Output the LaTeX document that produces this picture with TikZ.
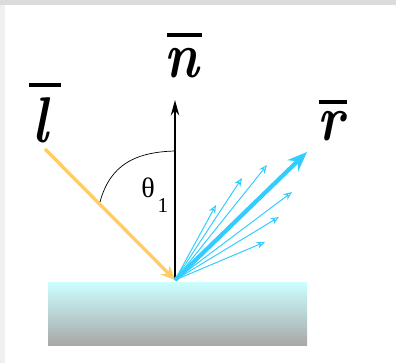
\documentclass[tikz,border=0pt]{standalone}
\usepackage{fontspec}
\newfontfamily\greekfont{Liberation Serif}
\usetikzlibrary{arrows.meta}
\definecolor{raylight}{RGB}{255,204,102}
\definecolor{rayblue}{RGB}{51,204,255}
\definecolor{slabtop}{RGB}{204,255,255}
\definecolor{slabbot}{RGB}{168,168,168}
\tikzset{
  veclabel/.style={anchor=base,inner sep=0pt,xscale=0.82,font=\fontsize{46}{46}\selectfont\bfseries\itshape},
  vecbar/.style={line width=2.2pt},
  spread/.style={rayblue,line width=0.7pt,-{Stealth[length=6pt,width=5pt,open]}}
}
\begin{document}
\begin{tikzpicture}[x=0.025cm,y=-0.025cm]
  \useasboundingbox (0,0) rectangle (396,363);
  % frame: grey strips at top and left, white panel
  \fill[black!14] (0,0) rectangle (396,5);
  \fill[black!6] (0,5) rectangle (5,363);
  % surface block
  \shade[top color=slabtop,bottom color=slabbot] (48,282) rectangle (307,345);
  % points used below
  \coordinate (O) at (175,280);
  \coordinate (ntip) at (175,100);
  \coordinate (lstart) at (45,149);
  \coordinate (rtip) at (307,152);
  \coordinate (a1) at (100,202);
  \coordinate (a2) at (175,151);
  % normal
  \draw[line width=1.5pt,-{Stealth[length=11pt,width=6pt]}] (O) -- (ntip);
  % incoming light
  \draw[raylight,line width=2.4pt,-{Stealth[length=10pt,width=9pt]}] (lstart) -- (O);
  % angle mark
  \draw[line width=0.5pt] (a1) .. controls (110,165) and (135,152) .. (a2);
  \node[anchor=base,inner sep=0pt,font=\greekfont\fontsize{20}{20}\selectfont] (theta) at (148,197) {θ};
  \node[anchor=base,inner sep=0pt,font=\greekfont\fontsize{15}{15}\selectfont] (one) at (163,212) {1};
  % scattered rays
  \foreach \x/\y [count=\i] in {216/205,242/178,267/165,292/192,279/217,265/242}
    \draw[spread] (O) -- (\x,\y);
  % reflected ray
  \draw[rayblue,line width=3pt,-{Stealth[length=14pt,width=11pt]}] (O) -- (rtip);
  % labels with bars
  \node[veclabel] (n) at (182,77) {n};
  \draw[vecbar] (167,35) -- (202,35);
  \node[veclabel] (l) at (40,142) {l};
  \draw[vecbar] (29,85) -- (61,85);
  \node[veclabel] (r) at (331,140) {r};
  \draw[vecbar] (319,102) -- (347,102);
\end{tikzpicture}
\end{document}
